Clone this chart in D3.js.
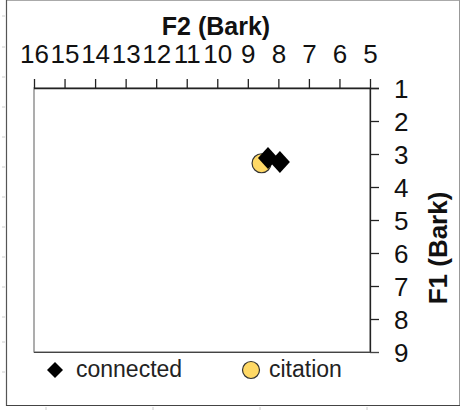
<!DOCTYPE html>
<html>
<head>
<meta charset="utf-8">
<script src="https://cdn.jsdelivr.net/npm/d3@7"></script>
<style>
  html, body { margin: 0; padding: 0; background: #fff; }
  svg { display: block; }
</style>
</head>
<body>
<script>
// Vowel formant positions in Bark (F2 horizontal, F1 vertical, both reversed)
const seriesNames = ["connected", "citation"];
const connectedF2 = [8.34, 7.95];
const connectedF1 = [3.12, 3.24];
const citationF2 = [8.55];
const citationF1 = [3.28];
const f2Ticks = [16, 15, 14, 13, 12, 11, 10, 9, 8, 7, 6, 5];
const f1Ticks = [1, 2, 3, 4, 5, 6, 7, 8, 9];

const W = 460, H = 410;
const svg = d3.select("body").append("svg").attr("width", W).attr("height", H);

// Faint worksheet cell marks around the chart frame
const rowMarks = [16, 47, 77, 107, 137, 167, 197, 227, 257, 287, 317, 342, 372];
svg.selectAll("line.row").data(rowMarks).join("line")
  .attr("x1", 2).attr("x2", 5).attr("y1", d => d).attr("y2", d => d)
  .attr("stroke", "#ccc").attr("stroke-width", 1);
const colMarks = [46, 153, 260, 367];
svg.selectAll("line.col").data(colMarks).join("line")
  .attr("x1", d => d).attr("x2", d => d).attr("y1", 407).attr("y2", 410)
  .attr("stroke", "#ccc").attr("stroke-width", 1);

// Chart frame
svg.append("line").attr("x1", 6).attr("x2", 460).attr("y1", 0.5).attr("y2", 0.5).attr("stroke", "#aaa");
svg.append("line").attr("x1", 459.5).attr("x2", 459.5).attr("y1", 0).attr("y2", 406).attr("stroke", "#999");
svg.append("line").attr("x1", 6.5).attr("x2", 6.5).attr("y1", 0).attr("y2", 406).attr("stroke", "#555").attr("stroke-width", 1.2);
svg.append("line").attr("x1", 6).attr("x2", 460).attr("y1", 405.5).attr("y2", 405.5).attr("stroke", "#444").attr("stroke-width", 1.2);

const plotL = 34, plotR = 370, plotT = 88, plotB = 352;
const x = d3.scaleLinear().domain([16, 5]).range([plotL, plotR]);
const y = d3.scaleLinear().domain([1, 9]).range([plotT, plotB]);

// Plot area border
svg.append("rect")
  .attr("x", plotL).attr("y", plotT).attr("width", plotR - plotL).attr("height", plotB - plotT)
  .attr("fill", "none").attr("stroke", "#777").attr("stroke-width", 1.2);

// Top axis (F2)
const xAxis = d3.axisTop(x).tickValues(f2Ticks).tickSize(9).tickSizeOuter(0).tickFormat(d3.format("d"));
const gx = svg.append("g").attr("transform", `translate(0,${plotT})`).call(xAxis);
gx.select(".domain").attr("d", `M${plotL},0.5H${plotR + 9}`).attr("stroke", "#222").attr("stroke-width", 1.3);
gx.selectAll(".tick line").attr("stroke", "#222").attr("stroke-width", 1.3);
gx.selectAll(".tick text")
  .attr("y", -25).attr("dy", null)
  .attr("font-family", "'Liberation Sans', Arial, sans-serif")
  .attr("font-size", 26).attr("fill", "#111");

// Right axis (F1)
const yAxis = d3.axisRight(y).tickValues(f1Ticks).tickSize(9).tickSizeOuter(0).tickFormat(d3.format("d"));
const gy = svg.append("g").attr("transform", `translate(${plotR},0)`).call(yAxis);
gy.select(".domain").attr("d", `M0.5,${plotT}V${plotB}`).attr("stroke", "#222").attr("stroke-width", 1.3);
gy.selectAll(".tick line").attr("stroke", "#222").attr("stroke-width", 1.3);
gy.append("line").attr("x1", -(plotR - plotL)).attr("x2", 9).attr("y1", plotB + 0.5).attr("y2", plotB + 0.5)
  .attr("stroke", "#444").attr("stroke-width", 1.2);
gy.selectAll(".tick text")
  .attr("x", 24).attr("dy", "0.36em")
  .attr("font-family", "'Liberation Sans', Arial, sans-serif")
  .attr("font-size", 26).attr("fill", "#111");

// Axis titles
svg.append("text").attr("x", 216).attr("y", 34.5).attr("text-anchor", "middle")
  .attr("font-family", "'Liberation Sans', Arial, sans-serif").attr("font-weight", "bold")
  .attr("font-size", 25).attr("fill", "#111").text("F2 (Bark)");
svg.append("text").attr("transform", "translate(447,248) rotate(-90)").attr("text-anchor", "middle")
  .attr("font-family", "'Liberation Sans', Arial, sans-serif").attr("font-weight", "bold")
  .attr("font-size", 26).attr("fill", "#111").text("F1 (Bark)");

const diamond = (cx, cy, rx, ry) => `M${cx},${cy - ry}L${cx + rx},${cy}L${cx},${cy + ry}L${cx - rx},${cy}Z`;
const yellow = "#FFD966";

// Citation tokens
svg.selectAll("circle.cit").data(citationF2.map((v, i) => [v, citationF1[i]])).join("circle")
  .attr("cx", d => x(d[0])).attr("cy", d => y(d[1])).attr("r", 9.5)
  .attr("fill", yellow).attr("stroke", "#333").attr("stroke-width", 1.2);

// Connected-speech tokens
svg.selectAll("path.con").data(connectedF2.map((v, i) => [v, connectedF1[i]])).join("path")
  .attr("d", d => diamond(x(d[0]), y(d[1]), 10, 11)).attr("fill", "#000");

// Legend
svg.append("path").attr("d", diamond(55, 370, 8, 8)).attr("fill", "#000");
svg.append("text").attr("x", 76).attr("y", 377)
  .attr("font-family", "'Liberation Sans', Arial, sans-serif").attr("font-size", 23).attr("fill", "#222")
  .text(seriesNames[0]);
svg.append("circle").attr("cx", 251).attr("cy", 370).attr("r", 8.5)
  .attr("fill", yellow).attr("stroke", "#333").attr("stroke-width", 1.2);
svg.append("text").attr("x", 269).attr("y", 377)
  .attr("font-family", "'Liberation Sans', Arial, sans-serif").attr("font-size", 23).attr("fill", "#222")
  .text(seriesNames[1]);
</script>
</body>
</html>
